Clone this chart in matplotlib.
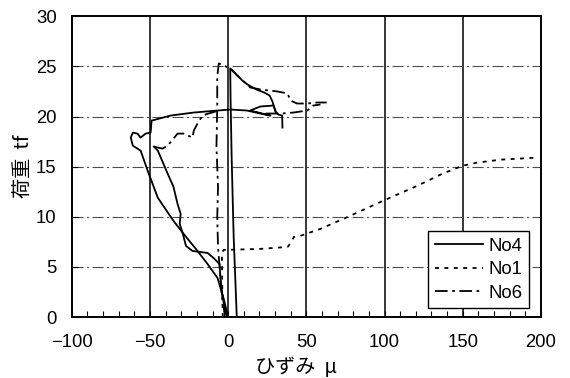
import numpy as np
import matplotlib.pyplot as plt

plt.rcParams['font.family'] = ['Liberation Sans', 'Noto Sans CJK JP', 'DejaVu Sans']

# No4 (solid), several pen strokes
no4_a_x = [0.0, -3, -6.8, -13.2, -19.6, -28.5, -35, -45, -51.5, -56, -61, -62.3, -61, -58, -56,
           -52.8, -49.6, -49, -46.4, -36.8, -22, -6.8, 1.3, 12, 20.6, 27, 14, 20.6, 29, 30.3,
           32, 34.5, 34.7]
no4_a_y = [0.0, 1.9, 3.9, 5.3, 6.6, 8.3, 9.6, 11.9, 14.6, 16.6, 17.1, 17.9, 18.4, 18.3, 17.9,
           18.3, 18.4, 19.6, 19.7, 20.1, 20.4, 20.6, 20.7, 20.6, 20.3, 20.1, 20.6, 21.0, 21.1, 20.5,
           20.2, 20.1, 18.9]
no4_b_x = [-0.5, -1.9, -3.8, -5, -5.5, -9.4, -13.2, -22.8, -27, -29, -31, -30.4, -32.4, -35,
           -38.7, -45, -47.5]
no4_b_y = [0.0, 0.6, 2.3, 3.9, 5.3, 5.9, 6.4, 6.6, 7.1, 8.3, 9.3, 10.3, 11.3, 13.0,
           14.3, 16.6, 17.0]
no4_c_x = [5.5, 3.5, 2.2, 1.5, 1.3, 2.6, 5.8, 9, 12.3, 18, 23, 26.5, 28.3, 30.3]
no4_c_y = [0.0, 8.0, 16.0, 22.0, 24.8, 24.6, 24.1, 23.6, 23.2, 22.7, 22.4, 22.1, 21.5, 20.5]

# No1 (dotted)
no1_x = [-3.5, -3.8, -4, -3, 20, 38, 40, 42, 46, 59, 78, 99, 121, 137, 150, 159, 174, 197]
no1_y = [0.0, 3.0, 6.3, 6.7, 6.8, 7.0, 7.4, 8.0, 8.1, 8.8, 10.1, 11.6, 13.1, 14.3, 15.1, 15.4,
         15.7, 15.9]

# No6 (dash-dot)
no6_a_x = [-2, -4, -5, -6.5, -7, -6.5, -7.5, -7, -7, -6, 1.3, 5.8, 9, 12.3, 14, 20.6, 31.5,
           38, 39.8, 44, 50.6, 57, 63]
no6_a_y = [0.0, 2.0, 4.0, 7.0, 10.0, 13.0, 17.0, 21.0, 24.0, 25.3, 24.8, 24.1, 23.6, 23.2,
           22.9, 22.7, 22.5, 22.3, 21.6, 21.3, 21.3, 21.4, 21.4]
no6_b_x = [-47.5, -42, -38.7, -35, -32.4, -28.5, -22.8, -22, -19.6, -16.4, -12.6, -8]
no6_b_y = [17.0, 16.8, 17.1, 17.8, 18.3, 18.3, 17.9, 18.6, 19.3, 20.1, 20.3, 20.5]
no6_c_x = [24, 34, 41.7, 50.6, 54.4, 59]
no6_c_y = [20.3, 20.3, 20.4, 20.6, 21.1, 21.2]

fig = plt.figure(figsize=(5.7, 3.78), dpi=100)
ax = fig.add_axes([0.126, 0.161, 0.823, 0.796])

dashdot = (0, (7, 2.5, 1.5, 2.5))
dotted = (0, (2.2, 3))
lw = 1.3

ax.plot(no4_a_x, no4_a_y, color='k', lw=lw, label='No4')
ax.plot(no4_b_x, no4_b_y, color='k', lw=lw)
ax.plot(no4_c_x, no4_c_y, color='k', lw=lw)
ax.plot(no1_x, no1_y, color='k', lw=lw, linestyle=dotted, label='No1')
ax.plot(no6_a_x, no6_a_y, color='k', lw=lw, linestyle=dashdot, label='No6')
ax.plot(no6_b_x, no6_b_y, color='k', lw=lw, linestyle=dashdot)
ax.plot(no6_c_x, no6_c_y, color='k', lw=lw, linestyle=dashdot)

ax.set_xlim(-100, 200)
ax.set_ylim(0, 30)
ax.set_xticks(np.arange(-100, 201, 50))
ax.set_yticks(np.arange(0, 31, 5))
ax.set_xticks(np.arange(-100, 201, 10), minor=True)

# grid: solid verticals, dash-dot horizontals
for xv in range(-50, 200, 50):
    ax.axvline(xv, color='k', lw=1.1, zorder=0)
for yv in range(5, 30, 5):
    ax.axhline(yv, color='0.3', lw=0.8, linestyle=(0, (10, 3, 2, 3)), zorder=0)

ax.tick_params(axis='both', direction='in', labelsize=13.3, length=4, width=0.8)
ax.tick_params(axis='x', which='minor', direction='in', length=4, width=0.8)
ax.tick_params(axis='x', pad=12)
ax.tick_params(axis='y', pad=11)
for s in ax.spines.values():
    s.set_linewidth(1.4)

cjk = ['Noto Sans CJK JP', 'DejaVu Sans']
ax.set_xlabel('ひずみ  μ', fontsize=14.5, family=cjk, va='center')
ax.xaxis.set_label_coords(0.478, -0.168)
ax.set_ylabel('荷重  tf', fontsize=14.5, family=cjk, va='center')
ax.yaxis.set_label_coords(-0.1, 0.5)

leg = ax.legend(loc='lower right', fontsize=13.3, frameon=True, fancybox=False,
                edgecolor='k', framealpha=1, handlelength=2.6, borderpad=0.35,
                labelspacing=0.35, handletextpad=0.3, borderaxespad=0,
                bbox_to_anchor=(0.974, 0.03))
leg.get_frame().set_linewidth(1.0)

fig.savefig('out.png', dpi=100)
